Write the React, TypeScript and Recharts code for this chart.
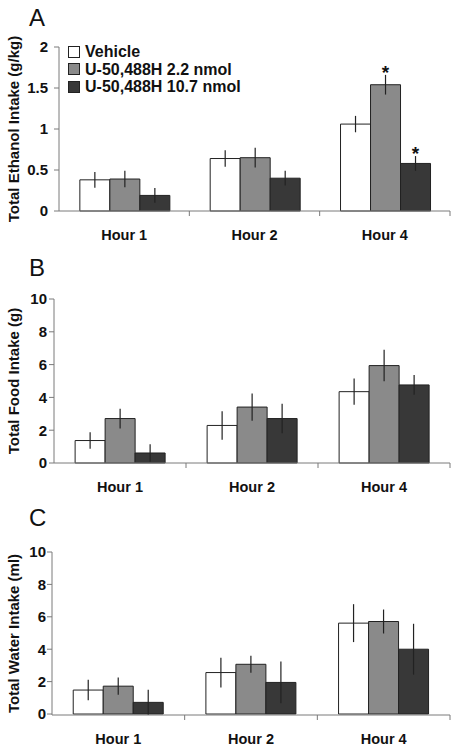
import React from 'react';
import { BarChart, Bar, XAxis, YAxis, ErrorBar, LabelList } from 'recharts';

const hours = ['Hour 1', 'Hour 2', 'Hour 4'];
const seriesNames = ['Vehicle', 'U-50,488H 2.2 nmol', 'U-50,488H 10.7 nmol'];
const seriesColors = ['#ffffff', '#8a8a8a', '#383838'];

// A: ethanol (g/kg)
const ethanolVehicle = [0.38, 0.64, 1.06];
const ethanolLow = [0.39, 0.65, 1.54];
const ethanolHigh = [0.19, 0.40, 0.58];
const ethanolVehicleErr = [0.095, 0.1, 0.1];
const ethanolLowErr = [0.1, 0.12, 0.12];
const ethanolHighErr = [0.09, 0.09, 0.09];
const ethanolLowStar = [false, false, true];
const ethanolHighStar = [false, false, true];

// B: food (g)
const foodVehicle = [1.37, 2.29, 4.35];
const foodLow = [2.71, 3.41, 5.94];
const foodHigh = [0.61, 2.71, 4.76];
const foodVehicleErr = [0.5, 0.87, 0.8];
const foodLowErr = [0.6, 0.83, 0.96];
const foodHighErr = [0.53, 0.9, 0.6];

// C: water (ml)
const waterVehicle = [1.48, 2.56, 5.61];
const waterLow = [1.72, 3.07, 5.71];
const waterHigh = [0.72, 1.95, 4.0];
const waterVehicleErr = [0.63, 0.92, 1.17];
const waterLowErr = [0.53, 0.53, 0.74];
const waterHighErr = [0.78, 1.29, 1.57];

const ethanolTicks = [0, 0.5, 1, 1.5, 2];
const intakeTicks = [0, 2, 4, 6, 8, 10];

const FONT = '"Liberation Sans", Arial, Helvetica, sans-serif';
const AXIS = '#7a7a7a';
const INK = '#111';

type Row = { [k: string]: string | number | null };

function buildRows(values: number[][], errs: number[][], stars: boolean[][]): Row[] {
  return hours.map((h, i) => {
    const row: Row = { hour: h };
    values.forEach((v, s) => {
      row[`s${s}`] = v[i];
      row[`s${s}e`] = errs[s][i];
      row[`s${s}star`] = stars[s][i] ? errs[s][i] : null;
    });
    return row;
  });
}

const HourTick = (props: any) => {
  const { x, y, payload } = props;
  const half = payload && payload.offset ? payload.offset : 65;
  return (
    <g>
      <line x1={x + half} x2={x + half} y1={y} y2={y + 5} stroke={AXIS} strokeWidth={1} />
      <text x={x} y={y + 29} textAnchor="middle" fontFamily={FONT} fontWeight="bold" fontSize={14.5} fill={INK}>
        {payload.value}
      </text>
    </g>
  );
};

const LegendBox = () => (
  <div
    style={{
      position: 'absolute',
      left: 68,
      top: 43,
      fontFamily: FONT,
      fontWeight: 'bold',
      fontSize: 16,
      color: INK,
      lineHeight: '17.5px',
    }}
  >
    {seriesNames.map((n, i) => (
      <div key={n} style={{ display: 'flex', alignItems: 'center' }}>
        <span
          style={{
            display: 'inline-block',
            width: 10,
            height: 10,
            background: seriesColors[i],
            border: '1px solid #222',
            marginRight: 5,
          }}
        />
        {n}
      </div>
    ))}
  </div>
);

interface PanelProps {
  letter: string;
  top: number;
  height: number;
  values: number[][];
  errs: number[][];
  stars: boolean[][];
  yLabel: string;
  domain: [number, number];
  ticks: number[];
  yWidth: number;
  tickMargin: number;
  mTop: number;
  mBottom: number;
  showLegend?: boolean;
  fmt?: (v: number) => string;
}

const Panel: React.FC<PanelProps> = (p) => {
  const rows = buildRows(p.values, p.errs, p.stars);
  const starContent = (s: number) => (lp: any) => {
    const vb = lp.viewBox || {};
    const x = lp.x ?? vb.x;
    const y = lp.y ?? vb.y;
    const w = lp.width ?? vb.width;
    const h = lp.height ?? vb.height;
    const err = lp.value;
    const idx = lp.index;
    if (err == null || idx == null) return null;
    const v = rows[idx][`s${s}`] as number;
    const errPx = (err * h) / v;
    return (
      <text x={x + w / 2} y={y - errPx + 4} textAnchor="middle" fontFamily={FONT} fontWeight="bold" fontSize={19} fill={INK}>
        *
      </text>
    );
  };
  return (
    <div style={{ position: 'absolute', left: 0, top: p.top, width: 458, height: p.height }}>
      <div style={{ position: 'absolute', left: 29, top: 6, fontFamily: FONT, fontSize: 24, color: INK, lineHeight: '24px' }}>
        {p.letter}
      </div>
      <BarChart
        width={458}
        height={p.height}
        data={rows}
        margin={{ top: p.mTop, right: 8, left: 0, bottom: p.mBottom }}
        barCategoryGap="16%"
        barGap={0}
      >
        <XAxis
          dataKey="hour"
          height={30}
          axisLine={{ stroke: AXIS }}
          tickLine={false}
          tickSize={0}
          tickMargin={0}
          tick={<HourTick />}
          interval={0}
        />
        <YAxis
          width={p.yWidth}
          domain={p.domain}
          ticks={p.ticks}
          interval={0}
          axisLine={{ stroke: AXIS }}
          tickLine={{ stroke: AXIS }}
          tickSize={5}
          tickMargin={p.tickMargin}
          tickFormatter={p.fmt}
          tick={{ fontFamily: FONT, fontWeight: 'bold', fontSize: 15, fill: INK }}
          label={{
            value: p.yLabel,
            angle: -90,
            position: 'insideLeft',
            offset: 14,
            style: { textAnchor: 'middle', fontFamily: FONT, fontWeight: 'bold', fontSize: 15, fill: INK },
          }}
        />
        {seriesNames.map((n, s) => (
          <Bar
            key={n}
            name={n}
            dataKey={`s${s}`}
            fill={seriesColors[s]}
            stroke="#222"
            strokeWidth={1}
            isAnimationActive={false}
          >
            <ErrorBar dataKey={`s${s}e`} width={0} stroke="#222" strokeWidth={1.2} direction="y" />
            <LabelList dataKey={`s${s}star`} content={starContent(s)} />
          </Bar>
        ))}
      </BarChart>
      {p.showLegend && <LegendBox />}
    </div>
  );
};

const noStars = [
  [false, false, false],
  [false, false, false],
  [false, false, false],
];

export default function App() {
  return (
    <div style={{ position: 'absolute', left: 0, top: 0, width: 458, height: 755, background: '#fff' }}>
      <Panel
        letter="A"
        top={0}
        height={250}
        values={[ethanolVehicle, ethanolLow, ethanolHigh]}
        errs={[ethanolVehicleErr, ethanolLowErr, ethanolHighErr]}
        stars={[[false, false, false], ethanolLowStar, ethanolHighStar]}
        yLabel="Total Ethanol Intake (g/kg)"
        domain={[0, 2]}
        ticks={ethanolTicks}
        yWidth={59}
        tickMargin={6}
        mTop={47}
        mBottom={9}
        showLegend
        fmt={(v) => String(v)}
      />
      <Panel
        letter="B"
        top={250}
        height={250}
        values={[foodVehicle, foodLow, foodHigh]}
        errs={[foodVehicleErr, foodLowErr, foodHighErr]}
        stars={noStars}
        yLabel="Total Food Intake (g)"
        domain={[0, 10]}
        ticks={intakeTicks}
        yWidth={54}
        tickMargin={2}
        mTop={49}
        mBottom={7}
      />
      <Panel
        letter="C"
        top={500}
        height={255}
        values={[waterVehicle, waterLow, waterHigh]}
        errs={[waterVehicleErr, waterLowErr, waterHighErr]}
        stars={noStars}
        yLabel="Total Water Intake (ml)"
        domain={[0, 10]}
        ticks={intakeTicks}
        yWidth={52}
        tickMargin={1}
        mTop={52}
        mBottom={10}
      />
    </div>
  );
}
